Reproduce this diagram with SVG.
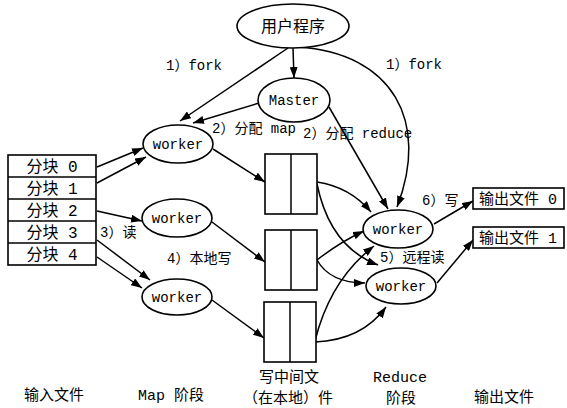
<svg xmlns="http://www.w3.org/2000/svg" width="567" height="408" viewBox="0 0 567 408">
<style>
.sh{fill:#fff;stroke:#000;stroke-width:1.6}
.bx{fill:#fff;stroke:#000;stroke-width:1.6}
.ln{fill:none;stroke:#000;stroke-width:1.5}
.t{font-family:"Liberation Mono","Noto Sans CJK SC",monospace;font-size:14px;fill:#000}
.c{font-family:"Liberation Mono","Noto Sans CJK SC",sans-serif;font-size:15px;fill:#000}
.m{text-anchor:middle}
</style>
<defs>
<marker id="ah" markerUnits="userSpaceOnUse" markerWidth="11" markerHeight="8" refX="11" refY="4" orient="auto">
<path d="M0,0 L11,4 L0,8 z" fill="#000"/>
</marker>
</defs>
<g id="connectors" class="ln">
<line x1="288" y1="48" x2="180" y2="121" marker-end="url(#ah)"/>
<line x1="293" y1="48" x2="294" y2="78" marker-end="url(#ah)"/>
<line x1="259" y1="103" x2="193" y2="123" marker-end="url(#ah)"/>
<path d="M298,47 C393,53 430,122 397,207" marker-end="url(#ah)"/>
<line x1="329" y1="107" x2="388" y2="209" marker-end="url(#ah)"/>
<line x1="97" y1="167" x2="143" y2="148" marker-end="url(#ah)"/>
<line x1="97" y1="183" x2="146" y2="157" marker-end="url(#ah)"/>
<line x1="97" y1="211" x2="142" y2="221" marker-end="url(#ah)"/>
<line x1="97" y1="240" x2="150" y2="280" marker-end="url(#ah)"/>
<line x1="97" y1="257" x2="142" y2="288" marker-end="url(#ah)"/>
<line x1="213" y1="149" x2="265" y2="182" marker-end="url(#ah)"/>
<line x1="212" y1="222" x2="265" y2="262" marker-end="url(#ah)"/>
<line x1="212" y1="300" x2="264" y2="338" marker-end="url(#ah)"/>
<path d="M317,182 Q350,187 371,212" marker-end="url(#ah)"/>
<path d="M317,184 Q330,247 378,265" marker-end="url(#ah)"/>
<path d="M317,260 Q340,242 364,231" marker-end="url(#ah)"/>
<path d="M317,260 Q330,283 365,283" marker-end="url(#ah)"/>
<path d="M315,341 Q330,280 374,246" marker-end="url(#ah)"/>
<path d="M315,342 Q362,340 386,307" marker-end="url(#ah)"/>
<line x1="434" y1="224" x2="473" y2="201" marker-end="url(#ah)"/>
<line x1="437" y1="283" x2="473" y2="240" marker-end="url(#ah)"/>
</g>
<g id="user-program">
<ellipse class="sh" cx="293" cy="26" rx="56" ry="22"/>
<text class="c m" x="293" y="32" style="font-size:16px">用户程序</text>
</g>
<g id="master">
<ellipse class="sh" cx="294" cy="100" rx="36" ry="22"/>
<text class="t m" x="294" y="105">Master</text>
</g>
<g id="map-worker-1">
<ellipse class="sh" cx="178" cy="144" rx="35" ry="19"/>
<text class="t m" x="178" y="149">worker</text>
</g>
<g id="map-worker-2">
<ellipse class="sh" cx="177" cy="218" rx="35" ry="19"/>
<text class="t m" x="177" y="223">worker</text>
</g>
<g id="map-worker-3">
<ellipse class="sh" cx="177" cy="297" rx="35" ry="18"/>
<text class="t m" x="177" y="302">worker</text>
</g>
<g id="input-files">
<rect class="bx" x="8" y="155" width="88" height="110"/>
<line class="ln" x1="8" y1="177" x2="96" y2="177"/>
<line class="ln" x1="8" y1="199" x2="96" y2="199"/>
<line class="ln" x1="8" y1="221" x2="96" y2="221"/>
<line class="ln" x1="8" y1="243" x2="96" y2="243"/>
<text class="c m" x="52" y="172" style="font-size:16px">分块 0</text>
<text class="c m" x="52" y="194" style="font-size:16px">分块 1</text>
<text class="c m" x="52" y="216" style="font-size:16px">分块 2</text>
<text class="c m" x="52" y="238" style="font-size:16px">分块 3</text>
<text class="c m" x="52" y="260" style="font-size:16px">分块 4</text>
</g>
<g id="intermediate-1">
<rect class="bx" x="265" y="154" width="52" height="60"/>
<line class="ln" x1="291" y1="154" x2="291" y2="214"/>
</g>
<g id="intermediate-2">
<rect class="bx" x="265" y="230" width="52" height="60"/>
<line class="ln" x1="291" y1="230" x2="291" y2="290"/>
</g>
<g id="intermediate-3">
<rect class="bx" x="264" y="302" width="52" height="60"/>
<line class="ln" x1="290" y1="302" x2="290" y2="362"/>
</g>
<g id="reduce-worker-1">
<ellipse class="sh" cx="398" cy="229" rx="35" ry="19"/>
<text class="t m" x="398" y="234">worker</text>
</g>
<g id="reduce-worker-2">
<ellipse class="sh" cx="401" cy="286" rx="35" ry="18"/>
<text class="t m" x="401" y="291">worker</text>
</g>
<g id="output-0">
<rect class="bx" x="473" y="188" width="91" height="21"/>
<text class="c" x="479" y="204">输出文件 0</text>
</g>
<g id="output-1">
<rect class="bx" x="473" y="227" width="91" height="21"/>
<text class="c" x="479" y="243">输出文件 1</text>
</g>
<g id="labels">
<text class="t" x="166" y="70">1）fork</text>
<text class="t" x="386" y="69">1）fork</text>
<text class="t" x="212" y="133">2）分配 map</text>
<text class="t" x="303" y="138">2）分配 reduce</text>
<text class="t" x="100" y="237">3）读</text>
<text class="t" x="167" y="263">4）本地写</text>
<text class="t" x="380" y="262">5）远程读</text>
<text class="t" x="422" y="205">6）写</text>
<text class="c m" x="54" y="400">输入文件</text>
<text class="c m" x="171" y="400">Map 阶段</text>
<text class="c m" x="289" y="382">写中间文</text>
<text class="c m" x="288" y="403">（在本地）件</text>
<text class="c m" x="400" y="382">Reduce</text>
<text class="c m" x="401" y="403">阶段</text>
<text class="c m" x="504" y="402">输出文件</text>
</g>
</svg>
